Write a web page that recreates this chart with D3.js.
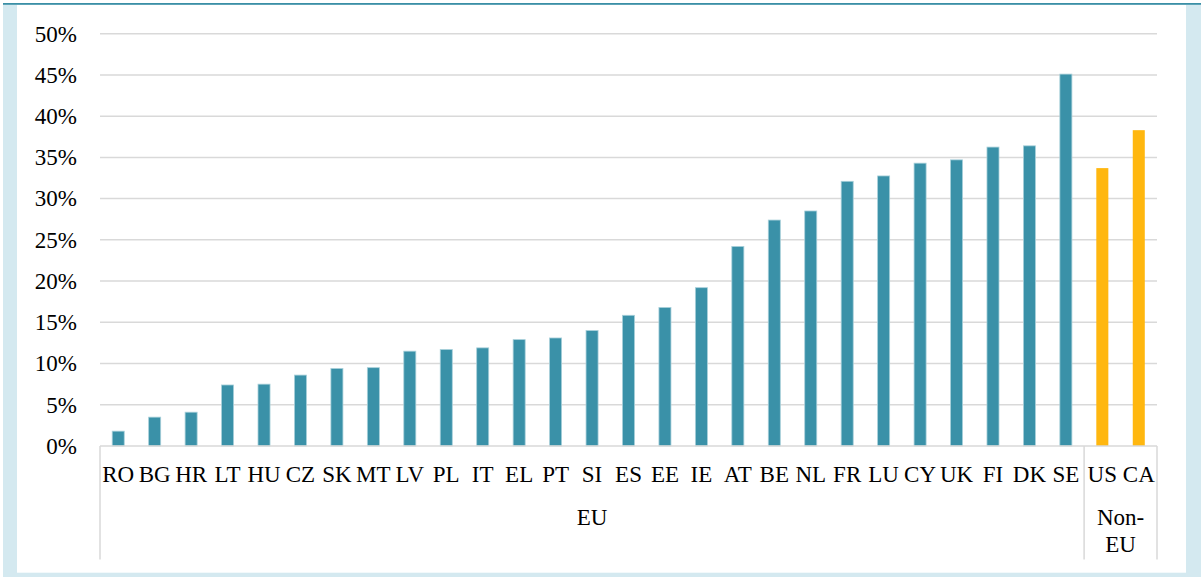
<!DOCTYPE html>
<html>
<head>
<meta charset="utf-8">
<script src="https://cdn.jsdelivr.net/npm/d3@7/dist/d3.min.js"></script>
<style>
  html, body { margin: 0; padding: 0; background: #ffffff; }
  svg { display: block; }
  text { font-family: "Liberation Serif", "Times New Roman", serif; fill: #000; }
</style>
</head>
<body>
<svg id="chart" width="1201" height="577"></svg>
<script>
// Share by country, EU members and two non-EU comparators
const countries = ["RO","BG","HR","LT","HU","CZ","SK","MT","LV","PL","IT","EL","PT","SI","ES","EE","IE","AT","BE","NL","FR","LU","CY","UK","FI","DK","SE","US","CA"];
const shares = [1.8,3.5,4.1,7.4,7.5,8.6,9.4,9.5,11.5,11.7,11.9,12.9,13.1,14.0,15.85,16.8,19.2,24.2,27.4,28.5,32.1,32.75,34.3,34.7,36.25,36.4,45.1,33.7,38.3];
const groupOf = ["EU","EU","EU","EU","EU","EU","EU","EU","EU","EU","EU","EU","EU","EU","EU","EU","EU","EU","EU","EU","EU","EU","EU","EU","EU","EU","EU","Non-EU","Non-EU"];
const groups = ["EU", "Non-EU"];
const groupLabels = [["EU"], ["Non-", "EU"]];
const yTicks = [0,5,10,15,20,25,30,35,40,45,50];

const svg = d3.select("#chart");
const W = 1201, H = 577;
const FS = 23;

// Frame: light blue surround, teal rule across the top, white panel
svg.append("rect").attr("x", 3).attr("y", 4.7).attr("width", W - 3).attr("height", H - 4.7).attr("fill", "#d4e9f0");
svg.append("rect").attr("x", 17).attr("y", 4.7).attr("width", 1169).attr("height", 568).attr("fill", "#ffffff");
svg.append("rect").attr("x", 3).attr("y", 3).attr("width", W - 3).attr("height", 1.8).attr("fill", "#3a8fa6");

const plot = { left: 100, right: 1157, top: 33.7, bottom: 446 };

const x = d3.scaleBand().domain(countries).range([plot.left, plot.right]).padding(0);
const y = d3.scaleLinear().domain([0, 50]).range([plot.bottom, plot.top]);
const color = d3.scaleOrdinal().domain(groups).range(["#3a91a8", "#ffb70f"]);

// Horizontal gridlines
svg.append("g").selectAll("line")
  .data(yTicks.filter(t => t > 0))
  .join("line")
  .attr("x1", plot.left).attr("x2", plot.right)
  .attr("y1", d => y(d)).attr("y2", d => y(d))
  .attr("stroke", "#d9d9d9").attr("stroke-width", 1.5);

// Y axis labels
const yAxis = d3.axisLeft(y).tickValues(yTicks).tickFormat(d => d + "%").tickSize(0).tickPadding(23);
const yg = svg.append("g").attr("transform", `translate(${plot.left},0)`).call(yAxis);
yg.select(".domain").remove();
yg.selectAll("text")
  .attr("font-family", "Liberation Serif, Times New Roman, serif")
  .attr("font-size", FS).attr("fill", "#000").attr("dy", "0.32em");

// Bars
const barW = x.bandwidth() * 0.33;
svg.append("g").selectAll("rect")
  .data(countries.map((c, i) => ({ c, v: shares[i], g: groupOf[i] })))
  .join("rect")
  .attr("x", d => x(d.c) + (x.bandwidth() - barW) / 2)
  .attr("width", barW)
  .attr("y", d => y(d.v))
  .attr("height", d => y(0) - y(d.v))
  .attr("fill", d => color(d.g))
  .attr("stroke", d => d.g === "EU" ? "#a8d0da" : "none")
  .attr("stroke-width", 0.8);

// Category axis baseline
svg.append("line")
  .attr("x1", plot.left).attr("x2", plot.right)
  .attr("y1", y(0)).attr("y2", y(0))
  .attr("stroke", "#d9d9d9").attr("stroke-width", 1.5);

// Country labels
svg.append("g").selectAll("text")
  .data(countries)
  .join("text")
  .attr("x", d => x(d) + x.bandwidth() / 2)
  .attr("y", 482)
  .attr("text-anchor", "middle")
  .attr("font-size", FS)
  .text(d => d);

// Group extents and dividers
const groupSpans = groups.map(g => {
  const members = countries.filter((c, i) => groupOf[i] === g);
  return { g, x0: x(members[0]), x1: x(members[members.length - 1]) + x.bandwidth() };
});
const dividers = [groupSpans[0].x0, ...groupSpans.map(s => s.x1)];
svg.append("g").selectAll("line")
  .data(dividers)
  .join("line")
  .attr("x1", d => d).attr("x2", d => d)
  .attr("y1", y(0)).attr("y2", 559.5)
  .attr("stroke", "#d9d9d9").attr("stroke-width", 1.5);

// Group labels
const gl = svg.append("g").selectAll("text")
  .data(groupSpans)
  .join("text")
  .attr("x", d => (d.x0 + d.x1) / 2)
  .attr("y", 525)
  .attr("text-anchor", "middle")
  .attr("font-size", FS);
gl.each(function(d, i) {
  const t = d3.select(this);
  groupLabels[i].forEach((line, k) => {
    t.append("tspan")
      .attr("x", (d.x0 + d.x1) / 2)
      .attr("dy", k === 0 ? 0 : 26.5)
      .text(line);
  });
});
</script>
</body>
</html>
